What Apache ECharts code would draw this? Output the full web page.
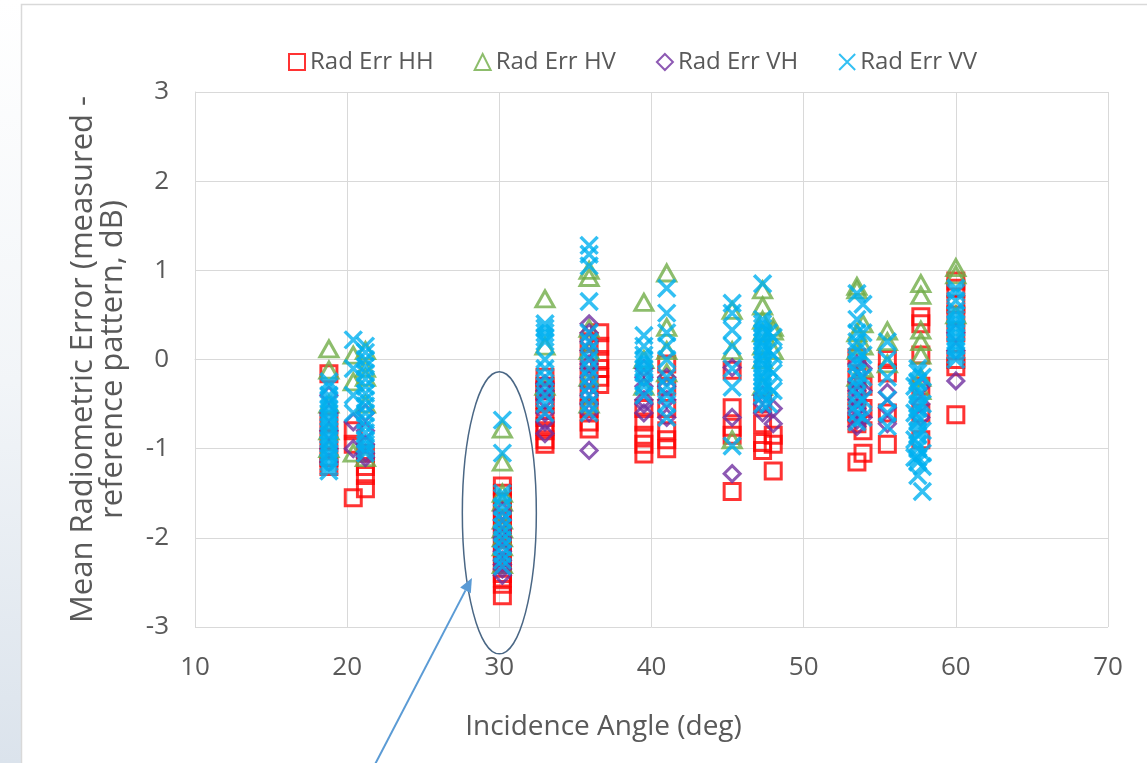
<!DOCTYPE html>
<html>
<head>
<meta charset="utf-8">
<script src="https://cdn.jsdelivr.net/npm/echarts@6/dist/echarts.min.js"></script>
<style>
html, body { margin: 0; padding: 0; background: #fff; }
#main { width: 1147px; height: 763px; }
</style>
</head>
<body>
<div id="main"></div>
<script>
// legend names
var seriesNames = ['Rad Err HH', 'Rad Err HV', 'Rad Err VH', 'Rad Err VV'];
var xTicks = [10, 20, 30, 40, 50, 60, 70];
var yTicks = [-3, -2, -1, 0, 1, 2, 3];

// [incidence angle, error dB]
var hhData = [
    [18.8, -0.16], [18.8, -0.7], [18.8, -0.9], [18.8, -1.1], [18.8, -1.2],
    [20.4, -0.8], [20.4, -0.95], [20.4, -1.55],
    [21.2, -1.05], [21.2, -1.2], [21.2, -1.3], [21.2, -1.45],
    [30.2, -1.42], [30.2, -1.5], [30.2, -1.6], [30.2, -1.7], [30.2, -1.8], [30.2, -1.9], [30.2, -2.0], [30.2, -2.1],
    [30.2, -2.2], [30.2, -2.3], [30.2, -2.4], [30.2, -2.45], [30.2, -2.52], [30.2, -2.65],
    [33.0, -0.2], [33.0, -0.3], [33.0, -0.35], [33.0, -0.45], [33.0, -0.5], [33.0, -0.65], [33.0, -0.75], [33.0, -0.8], [33.0, -0.9], [33.0, -0.95],
    [35.9, 0.2], [35.9, 0.0], [35.9, -0.2], [35.9, -0.4], [35.9, -0.55], [35.9, -0.7], [35.9, -0.78],
    [36.6, 0.3], [36.6, 0.15], [36.6, 0.0], [36.6, -0.1], [36.6, -0.2], [36.6, -0.28],
    [39.5, -0.55], [39.5, -0.7], [39.5, -0.85], [39.5, -0.95], [39.5, -1.06],
    [41.0, -0.05], [41.0, -0.3], [41.0, -0.55], [41.0, -0.8], [41.0, -0.9], [41.0, -1.0],
    [45.3, -0.12], [45.3, -0.54], [45.3, -0.76], [45.3, -0.85], [45.3, -1.48],
    [47.3, -0.5], [47.3, -0.72], [47.3, -0.93], [47.3, -1.02],
    [48.0, -0.85], [48.0, -0.95], [48.0, -1.25],
    [53.5, 0.02], [53.5, -0.2], [53.5, -0.4], [53.5, -0.6], [53.5, -0.72], [53.5, -1.15],
    [53.9, -0.3], [53.9, -0.55], [53.9, -0.8], [53.9, -1.05],
    [55.5, 0.0], [55.5, -0.15], [55.5, -0.6], [55.5, -0.95],
    [57.7, 0.48], [57.7, 0.4], [57.7, 0.05], [57.7, -0.3], [57.7, -0.6], [57.7, -0.9],
    [60.0, 0.88], [60.0, 0.8], [60.0, 0.62], [60.0, 0.5], [60.0, 0.3], [60.0, 0.0], [60.0, -0.08], [60.0, -0.62]
];
var hvData = [
    [18.8, 0.12], [18.8, -0.12], [18.8, -0.5], [18.8, -0.8], [18.8, -1.0],
    [20.4, 0.05], [20.4, -0.25], [20.4, -1.05],
    [21.2, 0.1], [21.2, -0.1], [21.2, -0.2], [21.2, -0.5], [21.2, -1.1],
    [30.2, -0.78], [30.2, -1.15], [30.2, -1.5], [30.2, -1.6], [30.2, -1.8], [30.2, -1.9], [30.2, -2.0], [30.2, -2.1], [30.2, -2.3],
    [33.0, 0.68], [33.0, 0.15], [33.0, -0.3],
    [35.9, 1.0], [35.9, 0.92], [35.9, 0.35], [35.9, 0.1], [35.9, -0.2], [35.9, -0.5],
    [39.5, 0.64], [39.5, 0.0], [39.5, -0.3],
    [41.0, 0.97], [41.0, 0.36], [41.0, 0.1], [41.0, -0.15],
    [45.3, 0.55], [45.3, 0.1], [45.3, -0.9],
    [47.3, 0.78], [47.3, 0.6], [47.3, 0.44], [47.3, 0.3], [47.3, 0.15], [47.3, 0.0], [47.3, -0.3],
    [48.0, 0.36], [48.0, 0.32], [48.0, 0.1],
    [53.5, 0.82], [53.5, 0.78], [53.5, 0.3], [53.5, 0.1], [53.5, -0.2],
    [53.9, 0.4], [53.9, 0.15], [53.9, -0.1],
    [55.5, 0.32], [55.5, 0.2], [55.5, -0.05],
    [57.7, 0.85], [57.7, 0.72], [57.7, 0.33], [57.7, 0.2], [57.7, 0.05], [57.7, -0.2], [57.7, -0.35],
    [60.0, 1.03], [60.0, 0.95], [60.0, 0.5]
];
var vhData = [
    [18.8, -0.4], [18.8, -0.6], [18.8, -0.8], [18.8, -1.0], [18.8, -1.15],
    [20.4, -0.7], [20.4, -1.0],
    [21.2, -0.6], [21.2, -0.8], [21.2, -0.95], [21.2, -1.05], [21.2, -1.1],
    [30.2, -1.7], [30.2, -1.8], [30.2, -1.9], [30.2, -2.0], [30.2, -2.1], [30.2, -2.15], [30.2, -2.25], [30.2, -2.3], [30.2, -2.35], [30.2, -2.42],
    [33.0, -0.27], [33.0, -0.35], [33.0, -0.45], [33.0, -0.6], [33.0, -0.7], [33.0, -0.83],
    [35.9, 0.4], [35.9, 0.3], [35.9, 0.2], [35.9, 0.1], [35.9, -0.05], [35.9, -0.1], [35.9, -0.2], [35.9, -0.3], [35.9, -0.4], [35.9, -0.5], [35.9, -0.6], [35.9, -1.02],
    [39.5, -0.1], [39.5, -0.2], [39.5, -0.3], [39.5, -0.45], [39.5, -0.5], [39.5, -0.6],
    [41.0, -0.2], [41.0, -0.3], [41.0, -0.45], [41.0, -0.65],
    [45.3, -0.09], [45.3, -0.65], [45.3, -1.28],
    [47.3, -0.4], [47.3, -0.5], [47.3, -0.6],
    [48.0, -0.55], [48.0, -0.72],
    [53.5, -0.05], [53.5, -0.25], [53.5, -0.35], [53.5, -0.45], [53.5, -0.55], [53.5, -0.6], [53.5, -0.68], [53.5, -0.75],
    [53.9, -0.1], [53.9, -0.35], [53.9, -0.65],
    [55.5, -0.37], [55.5, -0.54], [55.5, -0.72],
    [57.7, -0.3], [57.7, -0.5], [57.7, -0.65],
    [60.0, 0.3], [60.0, 0.1], [60.0, -0.24]
];
var vvData = [
    [18.8, -0.25], [18.8, -0.3], [18.8, -0.4], [18.8, -0.45], [18.8, -0.5], [18.8, -0.55], [18.8, -0.6], [18.8, -0.65], [18.8, -0.7], [18.8, -0.75],
    [18.8, -0.8], [18.8, -0.85], [18.8, -0.9], [18.8, -0.95], [18.8, -1.0], [18.8, -1.05], [18.8, -1.1], [18.8, -1.15], [18.8, -1.2], [18.8, -1.25],
    [20.4, 0.22], [20.4, -0.1], [20.4, -0.4], [20.4, -0.6],
    [21.2, 0.15], [21.2, 0.08], [21.2, 0.0], [21.2, -0.08], [21.2, -0.15], [21.2, -0.22], [21.2, -0.3], [21.2, -0.38], [21.2, -0.45], [21.2, -0.52],
    [21.2, -0.6], [21.2, -0.68], [21.2, -0.75], [21.2, -0.82], [21.2, -0.9], [21.2, -0.95], [21.2, -1.0], [21.2, -1.05],
    [30.2, -0.68], [30.2, -1.05], [30.2, -1.5], [30.2, -1.55], [30.2, -1.65], [30.2, -1.72], [30.2, -1.8], [30.2, -1.88], [30.2, -1.95],
    [30.2, -2.02], [30.2, -2.1], [30.2, -2.18], [30.2, -2.25], [30.2, -2.32],
    [33.0, 0.4], [33.0, 0.35], [33.0, 0.3], [33.0, 0.25], [33.0, 0.2], [33.0, 0.0], [33.0, -0.1], [33.0, -0.2], [33.0, -0.3], [33.0, -0.4], [33.0, -0.5], [33.0, -0.6],
    [35.9, 1.28], [35.9, 1.18], [35.9, 1.05], [35.9, 0.65], [35.9, 0.3], [35.9, 0.2], [35.9, 0.1], [35.9, 0.0], [35.9, -0.1], [35.9, -0.2],
    [35.9, -0.3], [35.9, -0.4], [35.9, -0.5], [35.9, -0.6],
    [39.5, 0.27], [39.5, 0.15], [39.5, 0.05], [39.5, 0.0], [39.5, -0.05], [39.5, -0.1], [39.5, -0.15], [39.5, -0.25], [39.5, -0.3], [39.5, -0.4],
    [41.0, 0.8], [41.0, 0.52], [41.0, 0.3], [41.0, 0.15], [41.0, 0.0], [41.0, -0.2], [41.0, -0.3], [41.0, -0.4], [41.0, -0.5], [41.0, -0.65],
    [45.3, 0.63], [45.3, 0.52], [45.3, 0.33], [45.3, 0.15], [45.3, -0.1], [45.3, -0.31], [45.3, -0.97],
    [47.3, 0.85], [47.3, 0.45], [47.3, 0.4], [47.3, 0.35], [47.3, 0.3], [47.3, 0.25], [47.3, 0.2], [47.3, 0.15], [47.3, 0.1], [47.3, 0.05],
    [47.3, 0.0], [47.3, -0.05], [47.3, -0.1], [47.3, -0.15], [47.3, -0.2], [47.3, -0.25], [47.3, -0.3], [47.3, -0.35], [47.3, -0.4], [47.3, -0.5],
    [47.7, 0.3], [47.7, 0.1], [47.7, -0.1], [47.7, -0.3], [47.7, -0.5],
    [48.0, 0.25], [48.0, 0.05], [48.0, -0.15], [48.0, -0.35],
    [53.5, 0.74], [53.5, 0.45], [53.5, 0.3], [53.5, 0.2], [53.5, 0.1], [53.5, 0.0], [53.5, -0.05], [53.5, -0.15], [53.5, -0.22], [53.5, -0.3],
    [53.5, -0.4], [53.5, -0.5], [53.5, -0.6], [53.5, -0.7],
    [53.9, 0.62], [53.9, 0.3], [53.9, 0.05], [53.9, -0.2], [53.9, -0.45], [53.9, -0.65],
    [55.5, 0.2], [55.5, 0.0], [55.5, -0.2], [55.5, -0.45], [55.5, -0.6], [55.5, -0.75],
    [57.3, -0.3], [57.3, -0.6], [57.3, -0.9], [57.3, -1.1],
    [57.5, -0.1], [57.5, -0.15], [57.5, -0.25], [57.5, -0.35], [57.5, -0.4], [57.5, -0.5], [57.5, -0.55], [57.5, -0.65], [57.5, -0.7], [57.5, -0.8],
    [57.5, -0.85], [57.5, -0.95], [57.5, -1.0], [57.5, -1.1], [57.5, -1.15], [57.5, -1.3],
    [57.8, -0.2], [57.8, -0.5], [57.8, -0.8], [57.8, -1.05], [57.8, -1.2], [57.8, -1.48],
    [60.0, 0.8], [60.0, 0.75], [60.0, 0.66], [60.0, 0.55], [60.0, 0.5], [60.0, 0.45], [60.0, 0.4], [60.0, 0.35], [60.0, 0.3], [60.0, 0.25],
    [60.0, 0.2], [60.0, 0.15], [60.0, 0.1], [60.0, 0.05], [60.0, 0.0]
];

// annotation around the 30 deg cluster (data units)
var ringCenter = [30.0, -1.72];
var arrowFrom = [21.8, -4.55];
var arrowTo = [28.2, -2.45];

var FONT = 'Open Sans';
var txtColor = '#595959';
var crossPath = 'path://M0,0L10,10M10,0L0,10';

var myChart = echarts.init(document.getElementById('main'), null, { renderer: 'canvas' });

function hollow(color, w) {
    return { color: 'rgba(255,255,255,0)', borderColor: color, borderWidth: w };
}

var option = {
    backgroundColor: '#fff',
    animation: false,
    textStyle: { fontFamily: FONT },
    legend: {
        top: 45,
        left: 283,
        itemWidth: 16,
        itemHeight: 16,
        itemGap: 40,
        textStyle: { fontSize: 24, color: txtColor, fontFamily: FONT },
        data: seriesNames
    },
    grid: { left: 195, right: 39, top: 92, bottom: 136 },
    xAxis: {
        type: 'value',
        min: xTicks[0],
        max: xTicks[xTicks.length - 1],
        interval: 10,
        name: 'Incidence Angle (deg)',
        nameLocation: 'middle',
        nameGap: 86,
        nameTextStyle: { fontSize: 28, color: txtColor, fontFamily: FONT, padding: [0, 96, 0, 0] },
        axisLine: { show: true, lineStyle: { color: '#d9d9d9' } },
        axisTick: { show: false },
        axisLabel: { fontSize: 26, color: txtColor, margin: 28, fontFamily: FONT },
        splitLine: { show: true, lineStyle: { color: '#d9d9d9' } }
    },
    yAxis: {
        type: 'value',
        min: yTicks[0],
        max: yTicks[yTicks.length - 1],
        interval: 1,
        name: 'Mean Radiometric Error (measured -\nreference pattern, dB)',
        nameLocation: 'middle',
        nameGap: 67,
        nameTextStyle: { fontSize: 31, color: txtColor, lineHeight: 30, fontFamily: FONT },
        axisLine: { show: true, lineStyle: { color: '#d9d9d9' } },
        axisTick: { show: false },
        axisLabel: { fontSize: 26, color: txtColor, margin: 26, fontFamily: FONT },
        splitLine: { show: true, lineStyle: { color: '#d9d9d9' } }
    },
    series: [
        {
            name: seriesNames[0], type: 'scatter', symbol: 'rect', symbolSize: 16,
            itemStyle: hollow('#ff0000', 3), data: hhData
        },
        {
            name: seriesNames[1], type: 'scatter', symbol: 'triangle', symbolSize: [18, 16],
            itemStyle: hollow('#70ad47', 3), data: hvData
        },
        {
            name: seriesNames[2], type: 'scatter', symbol: 'diamond', symbolSize: [16, 16],
            itemStyle: hollow('#7030a0', 3), data: vhData
        },
        {
            name: seriesNames[3], type: 'scatter', symbol: crossPath, symbolSize: 17,
            itemStyle: hollow('#00b0f0', 3.5), data: vvData
        }
    ]
};

myChart.setOption(option);

// frame + ellipse + arrow, placed from data coordinates
var c = myChart.convertToPixel({ gridIndex: 0 }, ringCenter);
var p0 = myChart.convertToPixel({ gridIndex: 0 }, arrowFrom);
var p1 = myChart.convertToPixel({ gridIndex: 0 }, arrowTo);
var ang = Math.atan2(p1[1] - p0[1], p1[0] - p0[0]);
var head = 14, half = 6;
var bx = p1[0] - head * Math.cos(ang), by = p1[1] - head * Math.sin(ang);

myChart.setOption({
    graphic: [
        {
            type: 'rect', z: -10, silent: true,
            shape: { x: 0, y: 0, width: 22, height: 763 },
            style: {
                fill: new echarts.graphic.LinearGradient(0, 0, 0, 1, [
                    { offset: 0, color: '#ffffff' },
                    { offset: 0.5, color: '#f2f5f8' },
                    { offset: 1, color: '#dbe3ec' }
                ])
            }
        },
        {
            type: 'rect', z: -5, silent: true,
            shape: { x: 21.5, y: 4.5, width: 1140, height: 800 },
            style: { fill: 'none', stroke: '#d9d9d9', lineWidth: 1.5 }
        },
        {
            type: 'ellipse', z: 100, silent: true,
            shape: { cx: c[0], cy: c[1], rx: 37, ry: 141 },
            style: { fill: 'none', stroke: '#4a6785', lineWidth: 1.5 }
        },
        {
            type: 'line', z: 100, silent: true,
            shape: { x1: p0[0], y1: p0[1], x2: bx, y2: by },
            style: { stroke: '#5b9bd5', lineWidth: 2 }
        },
        {
            type: 'polygon', z: 100, silent: true,
            shape: {
                points: [
                    [p1[0], p1[1]],
                    [bx + half * Math.sin(ang), by - half * Math.cos(ang)],
                    [bx - half * Math.sin(ang), by + half * Math.cos(ang)]
                ]
            },
            style: { fill: '#5b9bd5' }
        }
    ]
});
</script>
</body>
</html>
